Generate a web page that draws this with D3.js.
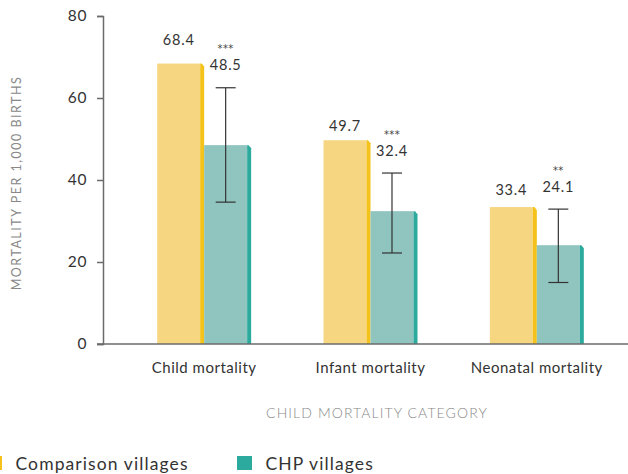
<!DOCTYPE html>
<html><head><meta charset="utf-8">
<script src="https://cdn.jsdelivr.net/npm/d3@7"></script>
<style>
html,body{margin:0;padding:0;background:#fff;}
svg{display:block;font-family:Lato,"Open Sans",sans-serif;}
</style></head>
<body>
<svg id="chart" width="628" height="474"></svg>
<script>
const categories = ["Child mortality", "Infant mortality", "Neonatal mortality"];
const seriesNames = ["Comparison villages", "CHP villages"];
const comparison = [68.4, 49.7, 33.4];
const chp = [48.5, 32.4, 24.1];
const chpLow = [34.6, 22.2, 15.0];
const chpHigh = [62.5, 41.7, 32.9];
const significance = ["***", "***", "**"];
const yTicks = [0, 20, 40, 60, 80];

const svg = d3.select("#chart");
const W = 628, H = 474;
const colors = {
  compFill: "#F7D682", compSide: "#F4C21B",
  chpFill: "#8FC4BF", chpSide: "#2CAA9D"
};

const y = d3.scaleLinear().domain([0, 80]).range([344, 16]);
const x0 = d3.scaleBand().domain(categories).range([121, 620])
  .paddingInner(0.435).paddingOuter(0.2175);
const x1 = d3.scaleBand().domain(seriesNames).range([0, x0.bandwidth()]).padding(0);

// axes
const yAxis = d3.axisLeft(y).tickValues(yTicks).tickSize(6).tickPadding(10);
const gy = svg.append("g").attr("transform", "translate(103,0)").call(yAxis);
gy.select(".domain").attr("stroke", "#6b6b6b").attr("stroke-width", 1.5);
gy.selectAll(".tick line").attr("stroke", "#6b6b6b").attr("stroke-width", 1.5);
gy.selectAll(".tick text").attr("fill", "#333").style("font-size", "15.5px")
  .style("font-family", "Lato, sans-serif").style("letter-spacing", "0.6px");

const xAxis = d3.axisBottom(x0).tickSize(0).tickPadding(18);
const gx = svg.append("g").attr("transform", "translate(0,344)").call(xAxis);
gx.select(".domain").remove();
gx.selectAll(".tick text").attr("fill", "#333").style("font-size", "15px")
  .style("font-family", "Lato, sans-serif").style("letter-spacing", "0.5px");

const data = categories.map((c, i) => ({
  cat: c, comp: comparison[i], chp: chp[i], lo: chpLow[i], hi: chpHigh[i], sig: significance[i]
}));

const side = 4;
function drawBar(g, xLeft, w, v, fill, sideFill) {
  const top = y(v), base = y(0);
  g.append("rect").attr("x", xLeft).attr("y", top).attr("width", w - side)
    .attr("height", base - top).attr("fill", fill);
  g.append("polygon")
    .attr("points", [[xLeft + w - side, top], [xLeft + w - side + 1.5, top], [xLeft + w, top + 3],
      [xLeft + w, base], [xLeft + w - side, base]].map(p => p.join(",")).join(" "))
    .attr("fill", sideFill);
}

const groups = svg.append("g").selectAll("g").data(data).join("g")
  .attr("transform", d => `translate(${x0(d.cat)},0)`);

groups.each(function(d) {
  const g = d3.select(this);
  const xc = x1(seriesNames[0]), xh = x1(seriesNames[1]), bw = x1.bandwidth();
  drawBar(g, xc, bw, d.comp, colors.compFill, colors.compSide);
  drawBar(g, xh, bw, d.chp, colors.chpFill, colors.chpSide);

  // error bar
  const ex = xh + (bw - side) / 2;
  g.append("line").attr("x1", ex).attr("x2", ex).attr("y1", y(d.hi)).attr("y2", y(d.lo))
    .attr("stroke", "#333").attr("stroke-width", 1.2);
  [d.hi, d.lo].forEach(v => {
    g.append("line").attr("x1", ex - 10).attr("x2", ex + 10).attr("y1", y(v)).attr("y2", y(v))
      .attr("stroke", "#333").attr("stroke-width", 1.2);
  });

  // labels
  const chpLabelY = y(d.hi) - 17.5;
  const starsY = chpLabelY - 19;
  let compLabelY = y(d.comp) - 12;
  if (Math.abs(compLabelY - starsY) < 10) compLabelY = starsY - 6;
  g.append("text").attr("x", xc + (bw - side) / 2).attr("y", compLabelY)
    .attr("text-anchor", "middle").attr("fill", "#333").style("font-size", "14.5px")
    .style("letter-spacing", "0.8px")
    .text(d.comp.toFixed(1));
  g.append("text").attr("x", ex).attr("y", chpLabelY)
    .attr("text-anchor", "middle").attr("fill", "#333").style("font-size", "14.5px")
    .style("letter-spacing", "0.8px")
    .text(d.chp.toFixed(1));
  g.append("text").attr("x", ex).attr("y", starsY + 1)
    .attr("text-anchor", "middle").attr("fill", "#444").style("font-size", "10px")
    .style("font-family", "'DejaVu Sans', sans-serif")
    .style("letter-spacing", "0.4px")
    .text(d.sig);
});

// x axis line
svg.append("line").attr("x1", 97).attr("x2", W).attr("y1", 344).attr("y2", 344)
  .attr("stroke", "#6b6b6b").attr("stroke-width", 1.5);

// axis titles
svg.append("text").attr("transform", "translate(21,183) rotate(-90)")
  .attr("text-anchor", "middle").attr("fill", "#888").style("font-size", "12.5px")
  .style("letter-spacing", "1.5px").text("MORTALITY PER 1,000 BIRTHS");
svg.append("text").attr("x", 377).attr("y", 418)
  .attr("text-anchor", "middle").attr("fill", "#888").style("font-size", "14px")
  .style("font-weight", 300)
  .style("letter-spacing", "1.1px").text("CHILD MORTALITY CATEGORY");

// legend
const legend = [
  { name: seriesNames[0], color: colors.compSide, x: -13 },
  { name: seriesNames[1], color: colors.chpSide, x: 237 }
];
const lg = svg.append("g").selectAll("g").data(legend).join("g")
  .attr("transform", d => `translate(${d.x},456)`);
lg.append("rect").attr("width", 15).attr("height", 14).attr("fill", d => d.color);
lg.append("text").attr("x", 28.5).attr("y", 13.5).attr("fill", "#333")
  .style("font-size", "17.5px").style("letter-spacing", "1.1px").text(d => d.name);
</script>
</body></html>
